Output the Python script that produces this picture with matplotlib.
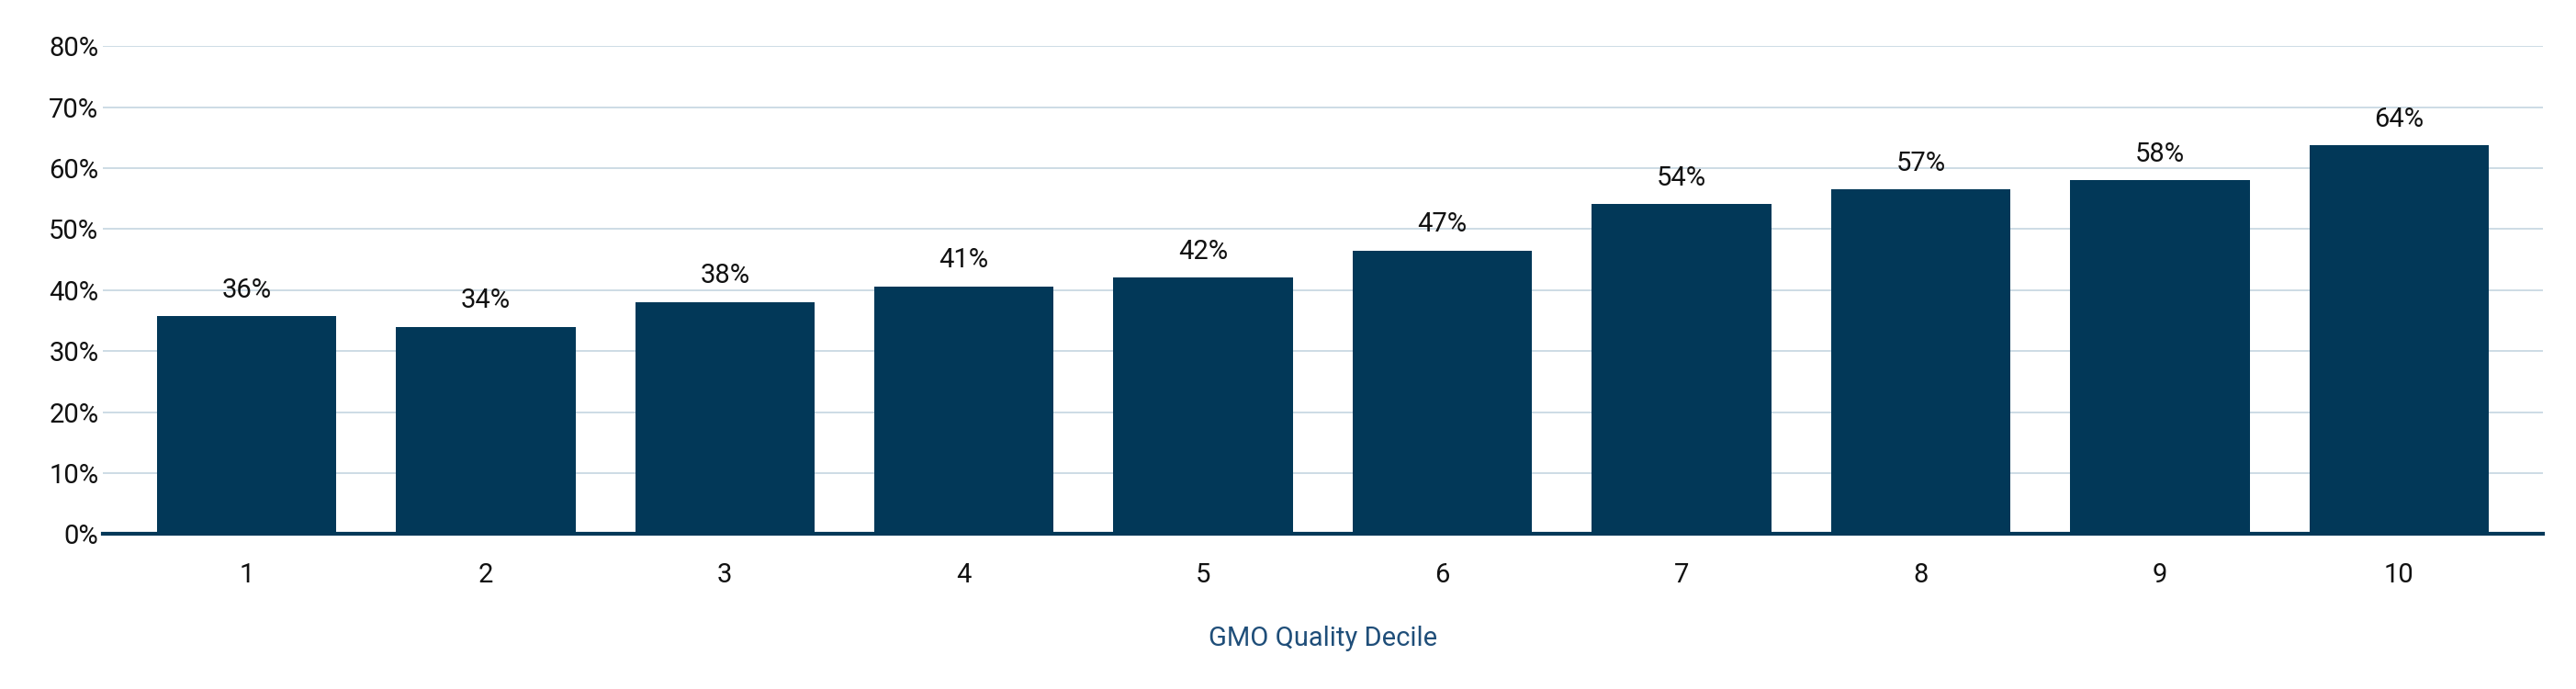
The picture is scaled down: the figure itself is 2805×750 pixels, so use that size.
import matplotlib
matplotlib.use("Agg")
import matplotlib.pyplot as plt
from matplotlib.ticker import PercentFormatter

deciles = ["1", "2", "3", "4", "5", "6", "7", "8", "9", "10"]
values = [35.7, 34.0, 38.0, 40.6, 42.0, 46.5, 54.1, 56.5, 58.0, 63.7]
labels = ["36%", "34%", "38%", "41%", "42%", "47%", "54%", "57%", "58%", "64%"]

plt.rcParams["font.family"] = ["Roboto", "DejaVu Sans"]

fig = plt.figure(figsize=(28.05, 7.5), dpi=100)
ax = fig.add_axes([0.040, 0.225, 0.947, 0.708])

x = range(len(deciles))
ax.bar(x, values, width=0.75, color="#023858", zorder=3)
for i, (v, lab) in enumerate(zip(values, labels)):
    ax.text(i, v + 2.2, lab, ha="center", va="bottom", fontsize=21, color="#111111")

ax.set_ylim(0, 80)
ax.set_xlim(-0.6, len(deciles) - 0.4)
ax.set_yticks(range(0, 81, 10))
ax.yaxis.set_major_formatter(PercentFormatter(decimals=0))
ax.set_xticks(list(x))
ax.set_xticklabels(deciles)
ax.tick_params(axis="both", labelsize=21, colors="#111111", length=0)
ax.tick_params(axis="x", pad=22)
ax.grid(axis="y", color="#c9d9e3", linewidth=1.3, zorder=0)
for s in ["top", "right", "left"]:
    ax.spines[s].set_visible(False)
ax.spines["bottom"].set_color("#023858")
ax.spines["bottom"].set_linewidth(3)
ax.spines["bottom"].set_zorder(4)
ax.set_xlabel("GMO Quality Decile", fontsize=21, color="#1f4e79", labelpad=30)

fig.savefig("out.png", dpi=100)
